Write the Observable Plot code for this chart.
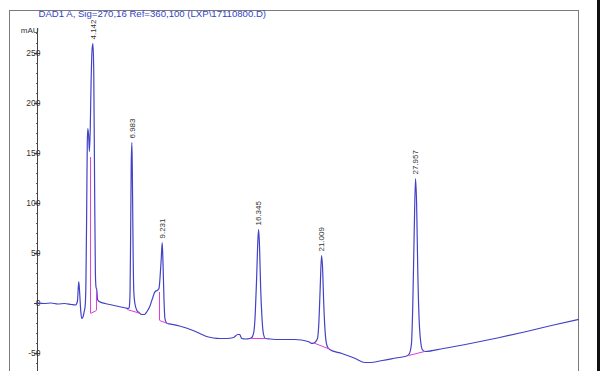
<!DOCTYPE html>
<html>
<head>
<meta charset="utf-8">
<script src="https://cdn.jsdelivr.net/npm/d3@7"></script>
<script src="https://cdn.jsdelivr.net/npm/@observablehq/plot@0.6"></script>
<style>
  html, body { margin: 0; padding: 0; background: #fff; overflow: hidden; width: 600px; height: 371px; }
  #edge { position: fixed; right: 0; top: 0; width: 3px; height: 371px; background: #111; }
  svg { display: block; }
</style>
</head>
<body>
<div id="chart"></div>
<div id="edge"></div>
<script>
// ---- Data ----
const chartTitle = "DAD1 A, Sig=270,16 Ref=360,100 (LXP\\17110800.D)";
const yUnit = "mAU";
const yTicks = [-50, 0, 50, 100, 150, 200, 250];
const yMinorTicks = [-60, -40, -30, -20, -10, 10, 20, 30, 40, 60, 70, 80, 90, 110, 120, 130, 140, 160, 170, 180, 190, 210, 220, 230, 240, 260, 270];

// retention time (min)
const times = [
  0, 0.5, 1.0, 1.5, 2.0, 2.5, 2.8, 2.95, 3.05, 3.12, 3.2, 3.27, 3.35, 3.45,
  3.52, 3.58, 3.64, 3.68, 3.72, 3.78, 3.84, 3.90, 3.96, 4.04, 4.10, 4.16, 4.22, 4.28, 4.33, 4.38, 4.44, 4.55,
  5.0, 5.5, 6.0, 6.5, 6.70,
  6.78, 6.84, 6.88, 6.93, 6.98, 7.02, 7.07, 7.12, 7.2, 7.35, 7.5, 7.7,
  7.9, 8.1, 8.3, 8.5, 8.7, 8.85, 8.98, 9.08, 9.15, 9.22, 9.28, 9.35, 9.42, 9.52, 9.62,
  10.0, 10.5, 11.0, 11.5, 12.0, 12.5, 13.0, 13.5, 14.0, 14.5, 14.8, 14.95, 15.1, 15.4, 15.7,
  15.85, 16.0, 16.1, 16.2, 16.3, 16.35, 16.42, 16.5, 16.6, 16.7, 16.85, 17.2, 18.0, 19.0, 19.5, 20.0, 20.35,
  20.5, 20.7, 20.8, 20.9, 21.0, 21.08, 21.15, 21.25, 21.4, 21.6,
  22.5, 23.5, 24.2, 24.6, 25.5, 26.5, 27.3,
  27.5, 27.65, 27.75, 27.85, 27.95, 28.03, 28.12, 28.25, 28.45, 28.65,
  30, 32, 34, 36, 38, 40
];
// absorbance (mAU)
const signal = [
  0.5, 0, 0.5, -0.5, 0, -1, -1.5, 2, 22, 10, -8, -15, -14, -8,
  -3, 20, 100, 160, 175, 168, 152, 175, 220, 255, 260, 230, 120, 30, 16, 14, 4, 2,
  0, -1.5, -3, -4.5, -5,
  -4, 10, 60, 140, 161, 120, 50, 12, 0, -7, -9, -11,
  -11, -8, -3, 5, 12, 13, 15, 30, 45, 61, 40, 5, -15, -19, -20,
  -21, -22.5, -24.5, -27, -30, -33, -34.5, -35, -35, -34, -31, -31, -35, -35.5, -35,
  -34, -28, -10, 25, 65, 74, 55, 15, -15, -30, -35, -35.5, -36, -36, -36.5, -38, -40,
  -39, -35, -20, 15, 48, 35, 5, -25, -42, -46,
  -50, -55, -59, -59, -57, -54.5, -52.5,
  -50, -40, 0, 70, 125, 100, 30, -25, -46, -48,
  -45, -40, -34.5, -28.5, -22, -16
];

// peak annotations
const peakTimes = [4.142, 6.983, 9.231, 16.345, 21.009, 27.957];
const peakHeights = [260, 161, 61, 74, 48, 125];
const peakLabels = ["4.142", "6.983", "9.231", "16.345", "21.009", "27.957"];

// integration baselines (start time, start value, end time, end value)
const baseStartT = [3.92, 6.63, 9.02, 15.75, 20.34, 27.44];
const baseStartV = [-10, -6, -17, -35, -39, -52];
const baseEndT = [4.36, 7.62, 9.62, 16.86, 21.67, 28.62];
const baseEndV = [-7, -10, -20, -35, -46, -48];
// integration drop lines (time, from value, to value)
const dropT = [3.92, 4.36, 9.02];
const dropFrom = [146, 12, 11];
const dropTo = [-10, -7, -17];

// ---- Build tables ----
const trace = times.map((t, i) => ({t, v: signal[i]}));
const peaks = peakTimes.map((t, i) => ({t, v: peakHeights[i], label: peakLabels[i]}));
const baselines = baseStartT.map((t, i) => ({t1: t, v1: baseStartV[i], t2: baseEndT[i], v2: baseEndV[i]}));
const drops = dropT.map((t, i) => ({t, v1: dropFrom[i], v2: dropTo[i]}));

const font = "Liberation Sans, Arial, sans-serif";

const chart = Plot.plot({
  width: 600,
  height: 380,
  marginLeft: 9,
  marginRight: 22,
  marginTop: 10,
  marginBottom: 0,
  style: {fontFamily: font, background: "#fff"},
  x: {domain: [-2.071, 40], axis: null},
  y: {domain: [-77, 293], axis: null},
  marks: [
    Plot.frame({stroke: "#7a7a7a", strokeWidth: 1}),
    Plot.text([chartTitle], {frameAnchor: "top-left", dx: 29, dy: 0, lineAnchor: "top", fill: "#3344c4", fontSize: 9.6}),
    Plot.text([yUnit], {frameAnchor: "top-left", dx: 29, dy: 17, lineAnchor: "top", textAnchor: "end", fill: "#333", fontSize: 8}),
    // y axis line
    Plot.ruleX([0], {y1: -77, y2: 275, stroke: "#444", strokeWidth: 1}),
    Plot.ruleY(yTicks, {x1: 0, x2: 0, insetLeft: -3, insetRight: -3, stroke: "#444"}),
    Plot.ruleY(yMinorTicks, {x1: 0, x2: 0, insetLeft: -1, insetRight: -1, stroke: "#555"}),
    Plot.text(yTicks, {x: 0, y: d => d, text: d => String(d), textAnchor: "end", dx: 3, fill: "#333", fontSize: 8.5}),
    // signal trace
    Plot.line(trace, {x: "t", y: "v", stroke: "#4242c6", strokeWidth: 1.2, curve: "monotone-x"}),
    // integration marks
    Plot.link(baselines, {x1: "t1", y1: "v1", x2: "t2", y2: "v2", stroke: "#e03ed8", strokeWidth: 1}),
    Plot.ruleX(drops, {x: "t", y1: "v1", y2: "v2", stroke: "#e03ed8", strokeWidth: 1}),
    // peak labels
    Plot.text(peaks, {x: "t", y: "v", text: "label", rotate: -90, textAnchor: "start", dy: -4, fill: "#333", fontSize: 8})
  ]
});
document.getElementById("chart").appendChild(chart);
</script>
</body>
</html>
